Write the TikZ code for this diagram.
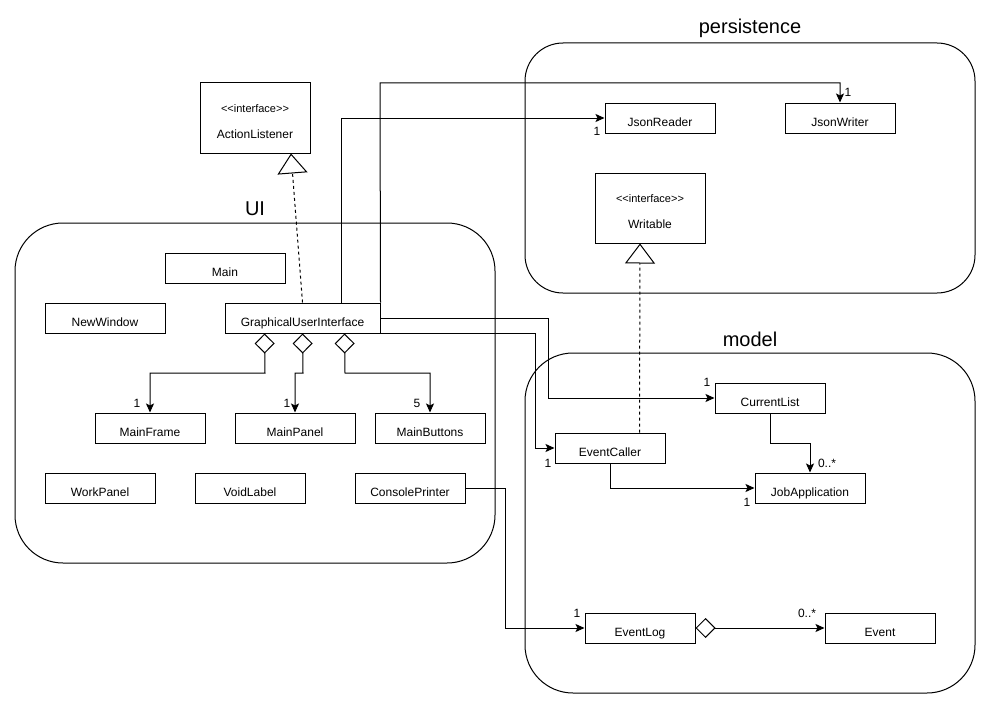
\documentclass[tikz,border=0pt]{standalone}
\usepackage{fontspec}
\setmainfont{Liberation Sans}[Ligatures=TeXOff]
\usetikzlibrary{arrows.meta}
\begin{document}
\begin{tikzpicture}[x=1pt,y=-1pt,
  line width=1pt,
  txt/.style={font=\fontsize{12}{14}\selectfont, text height=16.6pt, text depth=0pt},
  cls/.style={draw, rectangle, minimum width=110pt, minimum height=30pt, inner sep=0pt, txt},
  iface/.style={draw, rectangle, minimum width=110pt, minimum height=70pt, inner sep=0pt},
  stereo/.style={font=\fontsize{11}{13}\selectfont, yshift=9pt},
  ifname/.style={txt, yshift=-12pt},
  pkg/.style={draw, rectangle, rounded corners=#1},
  pkglabel/.style={font=\fontsize{20}{22}\selectfont},
  mult/.style={font=\fontsize{12}{14}\selectfont, inner sep=0pt},
  assoc/.style={-{Stealth[length=9pt,width=8pt,inset=2pt]}},
  aggr/.style={{Diamond[open,length=20pt,width=20pt]}-{Stealth[length=9pt,width=8pt,inset=2pt]}},
  realize/.style={dash pattern=on 3pt off 3pt, -{Triangle[open,length=20pt,width=30pt,fill=white]}}
]
\useasboundingbox (0,0) rectangle (991,709);

% packages
\draw[pkg=48pt] (15,223) rectangle (495,563);
\node[pkglabel] (uilbl) at (255,209) {UI};
\draw[pkg=38pt] (525,43) rectangle (975,293);
\node[pkglabel] (perslbl) at (750,28) {persistence};
\draw[pkg=48pt] (525,353) rectangle (975,693);
\node[pkglabel] (modellbl) at (750,339) {model};

% classes
\node[iface, label={[stereo]center:<<interface>>}, label={[ifname]center:ActionListener}] (alistener) at (255,118) {};
\node[cls, minimum width=120pt] (main) at (225,268) {Main};
\node[cls, minimum width=120pt] (newwin) at (105,318) {NewWindow};
\node[cls, minimum width=155pt] (gui) at (302.5,318) {GraphicalUserInterface};
\node[cls] (mframe) at (150,428) {MainFrame};
\node[cls, minimum width=120pt] (mpanel) at (295,428) {MainPanel};
\node[cls] (mbuttons) at (430,428) {MainButtons};
\node[cls] (wpanel) at (100,488) {WorkPanel};
\node[cls] (vlabel) at (250,488) {VoidLabel};
\node[cls] (cprinter) at (410,488) {ConsolePrinter};

\node[cls] (jreader) at (660,118) {JsonReader};
\node[cls] (jwriter) at (840,118) {JsonWriter};
\node[iface, label={[stereo]center:<<interface>>}, label={[ifname]center:Writable}] (writable) at (650,208) {};

\node[cls] (clist) at (770,398) {CurrentList};
\node[cls] (ecaller) at (610,448) {EventCaller};
\node[cls] (japp) at (810,488) {JobApplication};
\node[cls] (elog) at (640,628) {EventLog};
\node[cls] (event) at (880,628) {Event};

% realizations
\draw[realize] ([xshift=78pt]gui.north west) -- ([xshift=36pt]alistener.south);
\draw[realize] ([xshift=85pt]ecaller.north west) -- ([xshift=-10pt]writable.south);

% associations
\draw[assoc] ([xshift=117pt]gui.north west) |- (jreader);
\draw[assoc] (gui.north east) -- (380,83) -| (jwriter);
\draw[assoc] (gui.east) -| (548,398) -- (clist);
\draw[assoc] (gui.south east) -| (535,448) -- (ecaller);
\draw[assoc] (clist.south) -- (770,443) -| (japp);
\draw[assoc] (ecaller.south) |- (japp);
\draw[assoc] (cprinter.east) -| (505,628) -- (elog);

% aggregations
\draw[aggr] ([xshift=40pt]gui.south west) -- (265,373) -| (mframe);
\draw[aggr] ([xshift=78pt]gui.south west) -- (303,373) -| (mpanel);
\draw[aggr] ([xshift=120pt]gui.south west) -- (345,373) -| (mbuttons);
\draw[aggr] (elog) -- (event);

% multiplicities
\node[mult] (m1) at (597,131) {1};
\node[mult] (m2) at (848,92) {1};
\node[mult] (m3) at (137,403) {1};
\node[mult] (m4) at (287,403) {1};
\node[mult] (m5) at (417,403) {5};
\node[mult] (m6) at (707,382) {1};
\node[mult] (m7) at (548,463) {1};
\node[mult] (m8) at (827,463) {0..*};
\node[mult] (m9) at (747,502) {1};
\node[mult] (m10) at (577,613) {1};
\node[mult] (m11) at (807,613) {0..*};
\end{tikzpicture}
\end{document}
